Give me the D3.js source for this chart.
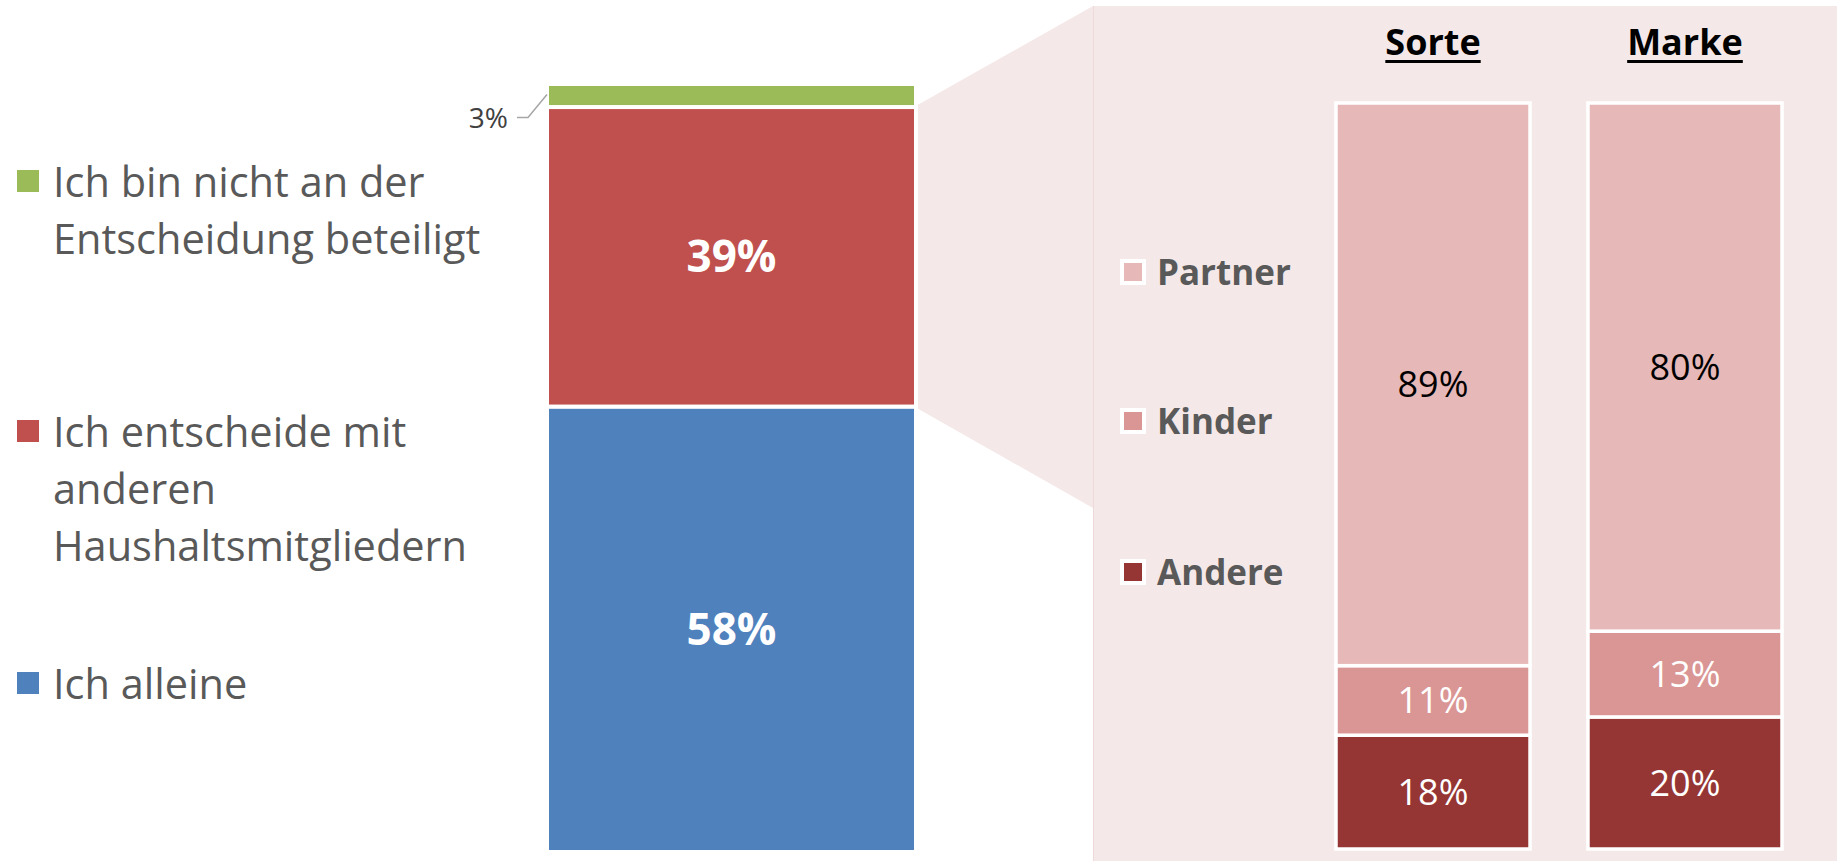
<!DOCTYPE html>
<html>
<head>
<meta charset="utf-8">
<script src="https://cdn.jsdelivr.net/npm/d3@7"></script>
<style>
  html, body { margin: 0; padding: 0; background: #fff; }
  svg { display: block; font-family: 'Open Sans', sans-serif; }
</style>
</head>
<body>
<svg id="drawing_region"></svg>
<script>
// left bar: who decides
const leftCategories = ['Ich alleine', 'Ich entscheide mit anderen Haushaltsmitgliedern', 'Ich bin nicht an der Entscheidung beteiligt']
const leftValues = [58, 39, 3]
const leftColors = ['#4f81bd', '#c0504d', '#9bbb59']
// legend is listed top to bottom, with its line breaks
const legendLines = [
  ['Ich bin nicht an der', 'Entscheidung beteiligt'],
  ['Ich entscheide mit', 'anderen', 'Haushaltsmitgliedern'],
  ['Ich alleine']
]

// right bars: with whom (Sorte / Marke)
const rightGroups = ['Sorte', 'Marke']
const rightKeys = ['Andere', 'Kinder', 'Partner']
const andereValues = [18, 20]
const kinderValues = [11, 13]
const partnerValues = [89, 80]
const rightColors = {Andere: '#963634', Kinder: '#da9694', Partner: '#e6b8b7'}
const rightLabelColors = {Andere: '#fff', Kinder: '#fff', Partner: '#000'}

const W = 1837, H = 861
const svg = d3.select('#drawing_region').attr('width', W).attr('height', H)

// ---- left stacked bar
const yLeft = d3.scaleLinear().domain([0, 100]).range([852, 84])
const xLeft = d3.scaleBand().domain(['all']).range([549, 914])

let acc = 0
const leftData = leftValues.map((v, i) => {
  const d = {name: leftCategories[i], value: v, y0: acc, y1: acc + v, color: leftColors[i]}
  acc += v
  return d
})

// pink panel + connector first so bars sit on top
const panelX = 1093
svg.append('rect')
  .attr('x', panelX).attr('y', 6)
  .attr('width', W - panelX).attr('height', H - 6)
  .attr('fill', '#f5e8e8')
svg.append('line')
  .attr('x1', panelX + 0.5).attr('x2', panelX + 0.5)
  .attr('y1', 6).attr('y2', H)
  .attr('stroke', '#efdada').attr('stroke-width', 1)

const red = leftData[1]
const barRight = xLeft('all') + xLeft.bandwidth()
svg.append('path')
  .attr('d', d3.line()([
    [barRight, yLeft(red.y1)],
    [panelX, 6],
    [panelX, 508],
    [barRight, yLeft(red.y0)]
  ]) + 'Z')
  .attr('fill', '#f5e8e8')

const left = svg.append('g')
left.selectAll('rect').data(leftData).enter()
  .append('rect')
  .attr('x', xLeft('all') - 2)
  .attr('width', xLeft.bandwidth() + 4)
  .attr('y', d => yLeft(d.y1))
  .attr('height', d => yLeft(d.y0) - yLeft(d.y1))
  .attr('fill', d => d.color)
  .attr('stroke', '#fff')
  .attr('stroke-width', 4)

left.selectAll('text.inner').data(leftData.filter(d => d.value >= 10)).enter()
  .append('text')
  .attr('class', 'inner')
  .attr('x', xLeft('all') + xLeft.bandwidth() / 2)
  .attr('y', d => yLeft((d.y0 + d.y1) / 2))
  .attr('dy', '0.35em')
  .attr('text-anchor', 'middle')
  .attr('fill', '#fff')
  .attr('font-size', 44)
  .attr('font-weight', 'bold')
  .text(d => d.value + '%')

// small slice gets a leader line
const small = leftData[2]
const cy = yLeft((small.y0 + small.y1) / 2)
const bx = xLeft('all')
svg.append('path')
  .attr('d', d3.line()([[bx - 2, cy - 1], [bx - 21, cy + 22], [bx - 32, cy + 22]]))
  .attr('fill', 'none')
  .attr('stroke', '#a6a6a6')
  .attr('stroke-width', 1.5)
svg.append('text')
  .attr('x', bx - 41)
  .attr('y', cy + 32)
  .attr('text-anchor', 'end')
  .attr('fill', '#404040')
  .attr('font-size', 28)
  .text(small.value + '%')

// left legend
const legendColors = [leftColors[2], leftColors[1], leftColors[0]]
const legendTop = [197, 447, 699]
const leg = svg.append('g')
legendLines.forEach((lines, i) => {
  leg.append('rect')
    .attr('x', 17).attr('y', legendTop[i] - 27)
    .attr('width', 22).attr('height', 22)
    .attr('fill', legendColors[i])
  const t = leg.append('text')
    .attr('x', 53).attr('y', legendTop[i])
    .attr('fill', '#595959')
    .attr('font-size', 41.5)
  lines.forEach((l, j) => {
    t.append('tspan').attr('x', 53).attr('dy', j === 0 ? 0 : 57).text(l)
  })
})

// ---- right stacked bars (100%)
const rightData = rightGroups.map((g, i) => ({
  group: g, Andere: andereValues[i], Kinder: kinderValues[i], Partner: partnerValues[i]
}))
const stack = d3.stack().keys(rightKeys).offset(d3.stackOffsetExpand)
const series = stack(rightData)

const xRight = d3.scaleBand().domain(rightGroups).range([1336, 1782]).paddingInner(0.23).paddingOuter(0)
const yRight = d3.scaleLinear().domain([0, 1]).range([849, 103])

const right = svg.append('g')
const layers = right.selectAll('g.layer').data(series).enter()
  .append('g').attr('class', 'layer')

layers.selectAll('rect').data(s => s.map(d => ({key: s.key, d: d}))).enter()
  .append('rect')
  .attr('x', d => xRight(d.d.data.group))
  .attr('width', xRight.bandwidth())
  .attr('y', d => yRight(d.d[1]))
  .attr('height', d => yRight(d.d[0]) - yRight(d.d[1]))
  .attr('fill', d => rightColors[d.key])
  .attr('stroke', '#fff')
  .attr('stroke-width', 3.5)

layers.selectAll('text').data(s => s.map(d => ({key: s.key, d: d}))).enter()
  .append('text')
  .attr('x', d => xRight(d.d.data.group) + xRight.bandwidth() / 2)
  .attr('y', d => yRight((d.d[0] + d.d[1]) / 2))
  .attr('dy', '0.35em')
  .attr('text-anchor', 'middle')
  .attr('font-size', 36)
  .attr('fill', d => rightLabelColors[d.key])
  .text(d => d.d.data[d.key] + '%')

// titles with underline
rightGroups.forEach(g => {
  const cx = xRight(g) + xRight.bandwidth() / 2
  const t = svg.append('text')
    .attr('x', cx).attr('y', 55)
    .attr('text-anchor', 'middle')
    .attr('font-size', 36)
    .attr('font-weight', 'bold')
    .attr('fill', '#000')
    .text(g)
  const w = t.node().getComputedTextLength()
  svg.append('rect')
    .attr('x', cx - w / 2).attr('y', 60)
    .attr('width', w).attr('height', 3)
    .attr('fill', '#000')
})

// right legend
const rLegend = ['Partner', 'Kinder', 'Andere']
const rLegendY = [285, 434, 585]
rLegend.forEach((k, i) => {
  svg.append('rect')
    .attr('x', 1122).attr('y', rLegendY[i] - 24)
    .attr('width', 22).attr('height', 22)
    .attr('fill', rightColors[k])
    .attr('stroke', '#fff')
    .attr('stroke-width', 4)
  svg.append('text')
    .attr('x', 1157).attr('y', rLegendY[i])
    .attr('font-size', 35)
    .attr('font-weight', 'bold')
    .attr('fill', '#595959')
    .text(k)
})
</script>
</body>
</html>
